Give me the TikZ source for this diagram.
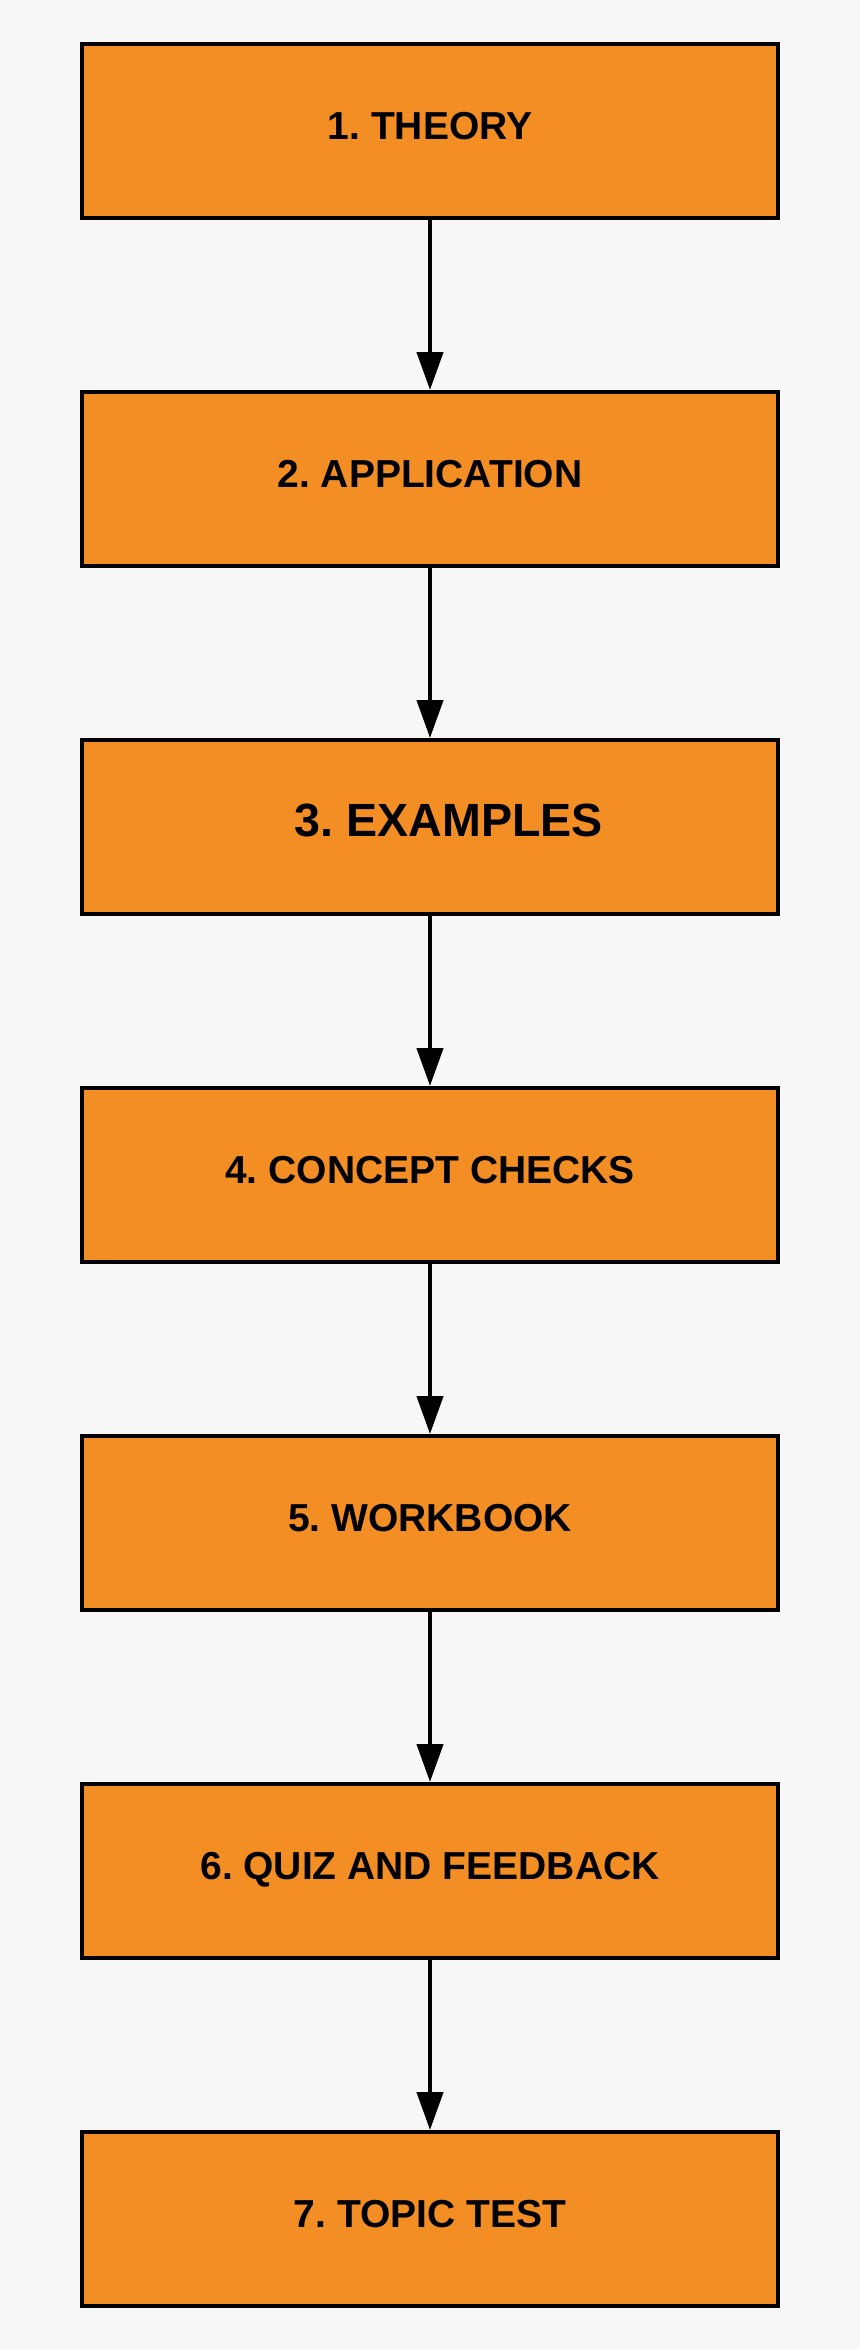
\documentclass[tikz,border=0pt]{standalone}
\usepackage{fontspec}
\setmainfont{Liberation Sans}
\usetikzlibrary{positioning,arrows.meta}
\definecolor{stageorange}{HTML}{F28E24}
\definecolor{pagegray}{HTML}{F7F7F7}
\frenchspacing

\begin{document}
\begin{tikzpicture}
		\tikzset{node distance=85pt}
		\tikzset{stage/.style={draw=black,line width=2pt,fill=stageorange,minimum width=348pt,minimum height=87pt,text depth=5pt,font=\fontsize{19.5}{23}\selectfont\bfseries}}
		\tikzset{flow/.style={line width=2.2pt,-{Triangle[width=13pt,length=19pt]}}}
		\fill[pagegray] (0,0) rectangle (430pt,-1174.5pt);
		\node[stage] (theory) at (215pt,-65.5pt) {1. THEORY};
		\node[stage,below=of theory] (application) {2. APPLICATION};
		\node[stage,below=of application,text depth=7pt,font=\fontsize{23.3}{28}\selectfont\bfseries] (examples) {\hspace*{19pt}3. EXAMPLES};
		\node[stage,below=of examples] (checks) {4. CONCEPT CHECKS};
		\node[stage,below=of checks] (workbook) {5. WORKBOOK};
		\node[stage,below=of workbook] (quiz) {6. QUIZ AND FEEDBACK};
		\node[stage,below=of quiz] (test) {7. TOPIC TEST};
		\foreach \a/\b in {theory/application,application/examples,examples/checks,checks/workbook,workbook/quiz,quiz/test}
		   \draw[flow] (\a) -- (\b);
\end{tikzpicture}
\end{document}
